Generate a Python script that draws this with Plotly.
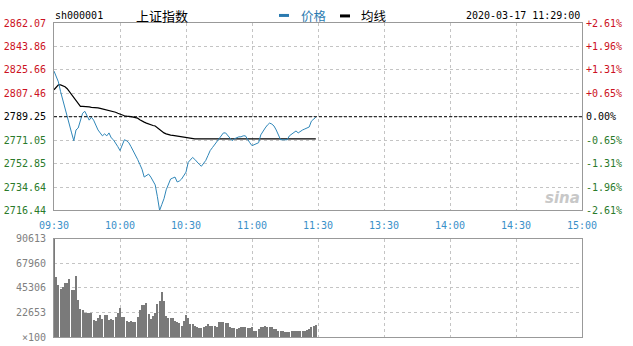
import plotly.graph_objects as go

# ---------------- data ----------------
code = "sh000001"
name = "上证指数"
stamp = "2020-03-17 11:29:00"
prev_close = 2789.25

# minutes after 09:30 (trading minutes)
minutes = list(range(120))

price = [
    2824.71, 2820.13, 2816.32, 2808.70, 2801.84, 2794.97, 2788.11, 2782.77, 2776.67, 2770.57,
    2778.96, 2780.49, 2786.59, 2791.92, 2793.45, 2789.64, 2786.59, 2788.87, 2786.59, 2782.77,
    2778.96, 2776.67, 2774.39, 2775.91, 2774.39, 2776.67, 2772.86, 2771.34, 2769.05, 2766.00,
    2762.95, 2766.76, 2771.34, 2770.57, 2769.05, 2766.00, 2762.95, 2759.14, 2756.09, 2752.28,
    2748.46, 2742.36, 2743.89, 2744.65, 2742.36, 2739.31, 2736.26, 2727.11, 2716.44, 2721.01,
    2725.59, 2732.45, 2737.03, 2740.84, 2741.60, 2742.36, 2738.55, 2739.31, 2740.84, 2743.89,
    2746.18, 2753.80, 2756.09, 2757.61, 2756.09, 2753.80, 2752.28, 2750.75, 2753.04, 2755.33,
    2759.14, 2762.95, 2765.24, 2767.52, 2770.57, 2772.86, 2775.15, 2776.67, 2776.67, 2774.39,
    2772.86, 2770.57, 2772.10, 2772.86, 2773.62, 2773.62, 2774.39, 2774.39, 2771.34, 2769.05,
    2766.76, 2767.52, 2768.29, 2769.05, 2775.15, 2778.20, 2780.49, 2782.77, 2784.30, 2783.54,
    2782.01, 2778.96, 2775.15, 2771.34, 2771.34, 2771.34, 2771.34, 2774.39, 2775.91, 2777.44,
    2778.20, 2776.67, 2778.20, 2778.96, 2779.72, 2780.49, 2781.25, 2785.82, 2787.35, 2788.87,
]

avg_price = [
    2810.22, 2812.51, 2814.03, 2814.03, 2813.27, 2812.51, 2810.99, 2808.70, 2805.65, 2803.36,
    2801.07, 2798.79, 2797.26, 2797.26, 2797.26, 2797.26, 2796.88, 2796.50, 2796.50, 2796.50,
    2796.12, 2795.74, 2795.36, 2794.97, 2794.21, 2793.83, 2793.45, 2793.07, 2792.69, 2791.92,
    2791.16, 2790.40, 2790.02, 2789.64, 2789.64, 2789.26, 2788.87, 2788.49, 2788.11, 2786.97,
    2785.82, 2785.06, 2784.30, 2783.54, 2782.77, 2782.39, 2782.01, 2780.49, 2778.96, 2777.82,
    2776.67, 2775.91, 2775.15, 2774.92, 2774.70, 2774.39, 2774.39, 2774.01, 2773.78, 2773.62,
    2773.39, 2772.86, 2772.48, 2772.10, 2772.10, 2772.10, 2772.10, 2772.10, 2772.10, 2772.10,
    2772.10, 2772.10, 2772.10, 2772.10, 2772.10, 2772.10, 2772.10, 2772.10, 2772.10, 2772.10,
    2772.10, 2772.10, 2772.10, 2772.10, 2772.10, 2772.10, 2772.10, 2772.10, 2772.10, 2772.10,
    2772.10, 2772.10, 2772.10, 2772.10, 2772.10, 2772.10, 2772.10, 2772.10, 2772.10, 2772.10,
    2772.10, 2772.10, 2772.10, 2772.10, 2772.10, 2772.10, 2772.10, 2772.10, 2772.10, 2772.10,
    2772.10, 2772.10, 2772.10, 2772.10, 2772.10, 2772.10, 2772.10, 2772.10, 2772.10, 2772.10,
]

# volume in units of 100 shares
volume = [
    90613, 55900, 48300, 44400, 45900, 49800, 50400, 53500, 43200, 43800,
    56800, 34100, 25700, 24800, 22650, 22000, 22000, 22650, 15700, 14500,
    18100, 20200, 16600, 20200, 20200, 15700, 16600, 15700, 18700, 22650,
    27200, 18700, 18700, 14500, 13600, 14500, 13600, 13600, 18700, 24800,
    29600, 29300, 31100, 21100, 16600, 19600, 22650, 30200, 33800, 41700,
    33200, 19600, 17500, 17500, 17500, 14500, 13600, 12700, 10600, 15100,
    20200, 18100, 12100, 12100, 9970, 9060, 8150, 8150, 9060, 10570,
    12100, 10570, 10570, 10570, 9660, 13590, 13590, 13590, 12680, 12680,
    9060, 8460, 8150, 7550, 8460, 9060, 9660, 9060, 8150, 8150,
    9060, 5440, 5440, 7550, 9060, 9660, 9970, 9060, 9060, 9660,
    7550, 7550, 5440, 6040, 6040, 4530, 4530, 5130, 5440, 6040,
    6040, 5440, 5440, 6040, 5440, 6640, 7550, 9060, 10570, 11480,
]

price_ticks = [2716.44, 2734.64, 2752.85, 2771.05, 2789.25, 2807.46, 2825.66, 2843.86, 2862.07]
pct_labels = ["-2.61%", "-1.96%", "-1.31%", "-0.65%", "0.00%", "+0.65%", "+1.31%", "+1.96%", "+2.61%"]
time_ticks = [0, 30, 60, 90, 120, 150, 180, 210, 240]
time_labels = ["09:30", "10:00", "10:30", "11:00", "11:30", "13:30", "14:00", "14:30", "15:00"]
vol_ticks = [0, 22653, 45306, 67960, 90613]
vol_labels = ["×100", "22653", "45306", "67960", "90613"]

# ---------------- style ----------------
RED = "#cc1122"
GREEN = "#2a7a2a"
BLUE_LINE = "#2f86b8"
TICK_BLUE = "#3a90c8"
GRID = "#c4c4c4"
BORDER = "#999999"
MONO = "DejaVu Sans Mono"
CJK = "Noto Sans CJK SC"

W, H = 633, 346
ML, MR, MT, MB = 54, 51, 23, 3


def col(v):
    if v > prev_close + 0.001:
        return RED
    if v < prev_close - 0.001:
        return GREEN
    return "#000000"


left_text = [f"<span style='color:{col(v)}'>{v:.2f}</span>" for v in price_ticks]
right_text = [f"<span style='color:{col(v)}'>{t}</span>" for v, t in zip(price_ticks, pct_labels)]

fig = go.Figure()

fig.add_trace(go.Bar(x=minutes, y=volume, width=0.45, marker=dict(color="#7a7a7a", line=dict(width=0)),
                     xaxis="x2", yaxis="y3", showlegend=False))
fig.add_trace(go.Scatter(x=minutes, y=avg_price, mode="lines", line=dict(color="#000000", width=1.2),
                         xaxis="x", yaxis="y", showlegend=False))
fig.add_trace(go.Scatter(x=minutes, y=price, mode="lines", line=dict(color=BLUE_LINE, width=1.0),
                         xaxis="x", yaxis="y", showlegend=False))
fig.add_trace(go.Scatter(x=[None], y=[None], xaxis="x", yaxis="y2", showlegend=False, hoverinfo="skip"))

yr = [price_ticks[0], price_ticks[-1]]
plot_h = H - MT - MB
price_bottom = (343 - 214) / plot_h
vol_top = (343 - 243) / plot_h

axis_common = dict(showline=True, linecolor=BORDER, linewidth=1, mirror=True,
                   showgrid=True, gridcolor=GRID, griddash="dot", gridwidth=1,
                   zeroline=False, ticks="", fixedrange=True)

fig.update_layout(
    width=W, height=H,
    margin=dict(l=ML, r=MR, t=MT, b=MB),
    paper_bgcolor="#ffffff", plot_bgcolor="#ffffff",
    bargap=0,
    font=dict(family=MONO, size=10, color="#000000"),
    xaxis=dict(domain=[0, 1], range=[0, 240], anchor="y", tickvals=time_ticks, ticktext=time_labels,
               tickfont=dict(color=TICK_BLUE, size=10, family=MONO), ticklabelstandoff=6, **axis_common),
    yaxis=dict(domain=[price_bottom, 1], range=yr, anchor="x", tickvals=price_ticks, ticktext=left_text,
               tickfont=dict(size=10, family=MONO), ticklabelstandoff=5, **axis_common),
    yaxis2=dict(overlaying="y", side="right", range=yr, anchor="x", tickvals=price_ticks, ticktext=right_text,
                tickfont=dict(size=10, family=MONO), ticklabelstandoff=3, showgrid=False, showline=False,
                zeroline=False, ticks="", fixedrange=True),
    xaxis2=dict(domain=[0, 1], range=[0, 240], anchor="y3", tickvals=time_ticks, showticklabels=False,
                **axis_common),
    yaxis3=dict(domain=[0, vol_top], range=[0, vol_ticks[-1]], anchor="x2", tickvals=vol_ticks,
                ticktext=vol_labels, tickfont=dict(color="#808080", size=10, family=MONO),
                ticklabelstandoff=5, **axis_common),
)

fig.add_hline(y=prev_close, xref="x", yref="y", line=dict(color="#000000", width=1, dash="3px,2px"))


def px(xp):
    return (xp - ML) / (W - ML - MR)


def py(yp):
    return (H - MB - yp) / plot_h


ann = [
    dict(text=code, x=px(53), y=py(15.5), font=dict(family=MONO, size=10, color="#000000")),
    dict(text=name, x=px(134), y=py(15.5), font=dict(family=CJK, size=13, color="#000000")),
    dict(text="价格", x=px(299), y=py(15.5), font=dict(family=CJK, size=12.5, color="#2a7ab0")),
    dict(text="均线", x=px(359), y=py(15.5), font=dict(family=CJK, size=12.5, color="#000000")),
]
for a in ann:
    fig.add_annotation(xref="paper", yref="paper", xanchor="left", yanchor="middle", showarrow=False, **a)
fig.add_annotation(text=stamp, xref="paper", yref="paper", x=px(582), y=py(15.5), xanchor="right",
                   yanchor="middle", showarrow=False, font=dict(family=MONO, size=10, color="#000000"))
fig.add_annotation(text="sina", xref="paper", yref="paper", x=px(582), y=py(201), xanchor="right",
                   yanchor="middle", showarrow=False,
                   font=dict(family="DejaVu Sans", size=15, color="#c8c8c8", style="italic", weight="bold"))

fig.add_shape(type="line", xref="paper", yref="paper", x0=px(279), x1=px(289), y0=py(15.3), y1=py(15.3),
              line=dict(color="#2a7ab0", width=3))
fig.add_shape(type="line", xref="paper", yref="paper", x0=px(340), x1=px(350), y0=py(15.8), y1=py(15.8),
              line=dict(color="#000000", width=3))

fig.write_html("out.html")
